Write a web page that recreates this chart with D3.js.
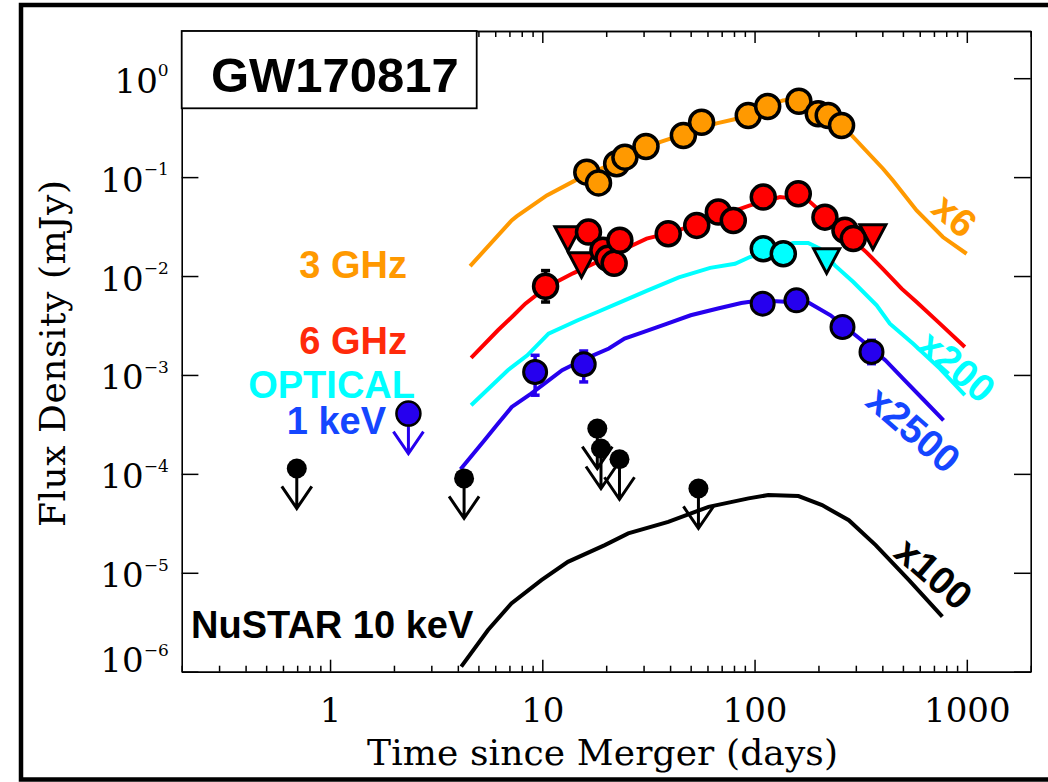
<!DOCTYPE html>
<html>
<head>
<meta charset="utf-8">
<script src="https://cdn.jsdelivr.net/npm/d3@7"></script>
<style>
  body { margin: 0; background: #fff; }
  svg { display: block; }
</style>
</head>
<body>
<svg id="chart" width="1048" height="782"></svg>
<script>
// ---------- Model light curves (time in days, flux density in mJy, already scaled) ----------
const model3GHzT = [4.57, 7.17, 7.57, 10.5, 14.3, 35.8, 66.2, 82.4, 136, 164, 287, 403, 449, 580, 771, 998];
const model3GHzF = [0.0126, 0.0365, 0.0401, 0.0653, 0.0927, 0.226, 0.349, 0.389, 0.595, 0.624, 0.264, 0.1216, 0.0926, 0.0461, 0.0248, 0.0168];

const model6GHzT = [4.62, 6.18, 7.33, 8.32, 10.5, 13.95, 31.0, 41.3, 95.2, 131.8, 179, 337, 404, 493, 580, 747, 979];
const model6GHzF = [0.00149, 0.00283, 0.00401, 0.00526, 0.00774, 0.01065, 0.0239, 0.0278, 0.0518, 0.0628, 0.0582, 0.01735, 0.0117, 0.00746, 0.00546, 0.00330, 0.00192];

const modelOptT = [4.62, 6.88, 8.50, 10.7, 14.7, 18.2, 24.4, 31.4, 44.0, 61.8, 80.9, 95.1, 152, 179, 203, 239, 292, 376, 434, 559, 747, 979];
const modelOptF = [4.94e-4, 1.115e-3, 1.58e-3, 2.62e-3, 3.57e-3, 4.33e-3, 5.68e-3, 7.17e-3, 9.7e-3, 0.0121, 0.0133, 0.01556, 0.0216, 0.0216, 0.0189, 0.0128, 0.00869, 0.00506, 0.0033, 0.00207, 0.00116, 6.24e-4];

const model1keVT = [4.12, 5.34, 6.19, 7.18, 8.86, 10.49, 12.4, 16.0, 20.6, 24.4, 30.1, 38.8, 50.0, 67.2, 86.6, 106.9, 181, 228, 320, 413, 510, 629, 777];
const model1keVF = [1.115e-4, 2.19e-4, 3.23e-4, 4.75e-4, 6.49e-4, 8.5e-4, 1.115e-3, 1.465e-3, 1.85e-3, 2.33e-3, 2.72e-3, 3.30e-3, 4.01e-3, 4.69e-3, 5.33e-3, 5.68e-3, 5.33e-3, 4.01e-3, 2.24e-3, 1.41e-3, 8.83e-4, 5.55e-4, 3.48e-4];

const model10keVT = [4.15, 5.55, 7.15, 9.90, 13.2, 19.7, 25.4, 39.2, 60.7, 93.7, 116, 161, 208, 278, 372, 534, 767];
const model10keVF = [1.124e-6, 2.64e-6, 4.91e-6, 8.44e-6, 1.29e-5, 1.905e-5, 2.50e-5, 3.27e-5, 4.64e-5, 5.65e-5, 6.1e-5, 5.96e-5, 4.83e-5, 3.40e-5, 1.905e-5, 8.44e-6, 3.6e-6];

// ---------- Detections ----------
const obs3GHzT = [16.2, 18.4, 22.4, 24.5, 30.8, 46.2, 56.3, 93.4, 115.3, 161.8, 199.6, 222.4, 257];
const obs3GHzF = [0.1123, 0.0874, 0.1366, 0.1592, 0.204, 0.2637, 0.3593, 0.420, 0.5177, 0.586, 0.437, 0.420, 0.333];

const obs6GHzT = [10.36, 16.5, 19.3, 20.4, 21.8, 23.2, 39.2, 53.4, 67.5, 79.4, 109.9, 160.7, 214.6, 266.6, 291.8];
const obs6GHzF = [0.00787, 0.0278, 0.0182, 0.0151, 0.01343, 0.0230, 0.0268, 0.0325, 0.0443, 0.0365, 0.0628, 0.0680, 0.0394, 0.0290, 0.0239];
const obs6GHzLo = [0.00546, null, null, null, null, null, null, null, null, null, null, null, null, null, null];
const obs6GHzHi = [0.01135, null, null, null, null, null, null, null, null, null, null, null, null, null, null];
const lim6GHzT = [13.2, 15.3, 361];
const lim6GHzF = [0.0258, 0.01407, 0.0270];

const obsOptT = [109.9, 136.6];
const obsOptF = [0.0189, 0.01683];
const limOptT = [218.6];
const limOptF = [0.01545];

const obs1keVT = [9.25, 15.67, 109.2, 157.5, 259.6, 355.6];
const obs1keVF = [1.072e-3, 1.282e-3, 5.26e-3, 5.68e-3, 3.05e-3, 1.71e-3];
const obs1keVLo = [6.24e-4, 8.5e-4, null, null, null, 1.3e-3];
const obs1keVHi = [1.58e-3, 1.746e-3, null, null, null, 2.24e-3];
const lim1keVT = [2.34];
const lim1keVF = [4.07e-4];

const lim10keVT = [0.697, 4.28, 18.16, 18.9, 23.1, 54.4];
const lim10keVF = [1.134e-4, 8.99e-5, 2.87e-4, 1.806e-4, 1.406e-4, 7.12e-5];

// ---------- Axis ticks ----------
const xMajorTicks = [1, 10, 100, 1000];
const xTickLabels = ["1", "10", "100", "1000"];
const yMajorTicks = [1, 1e-1, 1e-2, 1e-3, 1e-4, 1e-5, 1e-6];
const yTickExponents = ["0", "\u22121", "\u22122", "\u22123", "\u22124", "\u22125", "\u22126"];

// ---------- Colours ----------
const cOrange = "#ff9900";
const cRed = "#ff0000";
const cCyan = "#00ffff";
const cBlue = "#2600ee";
const cBlueText = "#1446ff";
const cRedText = "#ff2a0a";

const svg = d3.select("#chart");
const W = 1048, H = 782;
const plot = { left: 181.7, right: 1030.7, top: 31, bottom: 671.7 };

const x = d3.scaleLog().domain([0.2, 2000]).range([plot.left, plot.right]);
const y = d3.scaleLog().domain([1e-6, 3]).range([plot.bottom, plot.top]);

const serif = "'DejaVu Serif', 'Liberation Serif', serif";
const sans = "'Liberation Sans', Arial, Helvetica, sans-serif";

svg.append("rect").attr("width", W).attr("height", H).attr("fill", "#fff");

// outer frame
svg.append("rect")
  .attr("x", 21).attr("y", 5).attr("width", 1100).attr("height", 774.5)
  .attr("fill", "none").attr("stroke", "#000").attr("stroke-width", 4.5);

// ---------- Axes ----------
const minorX = [];
[0.1, 1, 10, 100, 1000].forEach(dec => {
  for (let k = 2; k <= 9; k++) {
    const v = k * dec;
    if (v >= 0.2 && v <= 2000) minorX.push(v);
  }
});

function styleAxis(g) {
  g.selectAll("path.domain").attr("stroke", "#000").attr("stroke-width", 1.6);
  g.selectAll(".tick line").attr("stroke", "#000").attr("stroke-width", 1.5);
}

const gBottom = svg.append("g").attr("transform", `translate(0,${plot.bottom})`)
  .call(d3.axisBottom(x).tickValues(xMajorTicks).tickSizeInner(-12).tickSizeOuter(0)
    .tickFormat((d, i) => xTickLabels[i]));
gBottom.selectAll(".tick text")
  .attr("y", 50.5).attr("dy", null)
  .attr("font-family", serif).attr("font-size", 34).attr("fill", "#000");
styleAxis(gBottom);

const gBottomMinor = svg.append("g").attr("transform", `translate(0,${plot.bottom})`)
  .call(d3.axisBottom(x).tickValues(minorX).tickSizeInner(-6).tickSizeOuter(0).tickFormat(""));
styleAxis(gBottomMinor);

const gTop = svg.append("g").attr("transform", `translate(0,${plot.top})`)
  .call(d3.axisTop(x).tickValues(xMajorTicks).tickSizeInner(-12).tickSizeOuter(0).tickFormat(""));
styleAxis(gTop);
const gTopMinor = svg.append("g").attr("transform", `translate(0,${plot.top})`)
  .call(d3.axisTop(x).tickValues(minorX).tickSizeInner(-6).tickSizeOuter(0).tickFormat(""));
styleAxis(gTopMinor);

const gLeft = svg.append("g").attr("transform", `translate(${plot.left},0)`)
  .call(d3.axisLeft(y).tickValues(yMajorTicks).tickSizeInner(-16.7).tickSizeOuter(0).tickPadding(13));
styleAxis(gLeft);
gLeft.selectAll(".tick text").each(function (d, i) {
  const t = d3.select(this);
  t.text(null)
    .attr("dy", null)
    .attr("y", d === 1e-6 ? 0 : 14)
    .attr("font-family", serif).attr("font-size", 34).attr("fill", "#000");
  t.append("tspan").text("10");
  t.append("tspan").attr("dy", -16.5).attr("font-size", 17).text(yTickExponents[i]);
});

const gRight = svg.append("g").attr("transform", `translate(${plot.right},0)`)
  .call(d3.axisRight(y).tickValues(yMajorTicks).tickSizeInner(-16.7).tickSizeOuter(0).tickFormat(""));
styleAxis(gRight);

// axis titles
svg.append("text")
  .attr("x", 602.5).attr("y", 765)
  .attr("text-anchor", "middle")
  .attr("font-family", serif).attr("font-size", 36)
  .attr("textLength", 471).attr("lengthAdjust", "spacing")
  .text("Time since Merger (days)");

svg.append("text")
  .attr("transform", "translate(65,353.5) rotate(-90)")
  .attr("text-anchor", "middle")
  .attr("font-family", serif).attr("font-size", 36)
  .attr("textLength", 347).attr("lengthAdjust", "spacing")
  .text("Flux Density (mJy)");

// title box
svg.append("rect")
  .attr("x", plot.left).attr("y", plot.top).attr("width", 295).attr("height", 77.3)
  .attr("fill", "#fff").attr("stroke", "#000").attr("stroke-width", 1.8);
svg.append("text")
  .attr("x", 211).attr("y", 91.7)
  .attr("font-family", sans).attr("font-weight", "bold").attr("font-size", 49)
  .text("GW170817");

// ---------- Model curves ----------
const line = d3.line().x(d => x(d[0])).y(d => y(d[1]));
const models = [
  { t: model10keVT, f: model10keVF, c: "#000" },
  { t: model1keVT, f: model1keVF, c: cBlue },
  { t: modelOptT, f: modelOptF, c: cCyan },
  { t: model6GHzT, f: model6GHzF, c: cRed },
  { t: model3GHzT, f: model3GHzF, c: cOrange }
];
svg.append("g").selectAll("path").data(models).join("path")
  .attr("d", m => line(d3.zip(m.t, m.f)))
  .attr("fill", "none").attr("stroke", m => m.c).attr("stroke-width", 4)
  .attr("stroke-linejoin", "miter");

// ---------- Marks ----------
function errorBars(T, F, Lo, Hi, color, width) {
  const rows = T.map((t, i) => ({ t, lo: Lo[i], hi: Hi[i] })).filter(d => d.lo != null);
  const g = svg.append("g").attr("stroke", color).attr("stroke-width", width);
  g.selectAll("line.v").data(rows).join("line").attr("class", "v")
    .attr("x1", d => x(d.t)).attr("x2", d => x(d.t))
    .attr("y1", d => y(d.lo)).attr("y2", d => y(d.hi));
  g.selectAll("line.lo").data(rows).join("line").attr("class", "lo")
    .attr("x1", d => x(d.t) - 4.5).attr("x2", d => x(d.t) + 4.5)
    .attr("y1", d => y(d.lo)).attr("y2", d => y(d.lo));
  g.selectAll("line.hi").data(rows).join("line").attr("class", "hi")
    .attr("x1", d => x(d.t) - 4.5).attr("x2", d => x(d.t) + 4.5)
    .attr("y1", d => y(d.hi)).attr("y2", d => y(d.hi));
}

function circles(T, F, fill, r, sw) {
  svg.append("g").selectAll("circle").data(d3.zip(T, F)).join("circle")
    .attr("cx", d => x(d[0])).attr("cy", d => y(d[1])).attr("r", r)
    .attr("fill", fill).attr("stroke", "#000").attr("stroke-width", sw);
}

function triangles(T, F, fill) {
  const tri = "M-13,-8.5L13,-8.5L0,16Z";
  svg.append("g").selectAll("path").data(d3.zip(T, F)).join("path")
    .attr("d", tri)
    .attr("transform", d => `translate(${x(d[0])},${y(d[1])})`)
    .attr("fill", fill).attr("stroke", "#000").attr("stroke-width", 3)
    .attr("stroke-linejoin", "miter");
}

function upperLimits(T, F, color, r, fill, sw) {
  const g = svg.append("g");
  const rows = d3.zip(T, F);
  g.selectAll("path").data(rows).join("path")
    .attr("d", d => {
      const cx = x(d[0]), cy = y(d[1]);
      return `M${cx},${cy}L${cx},${cy + 40}M${cx - 15},${cy + 18}L${cx},${cy + 40}L${cx + 15},${cy + 18}`;
    })
    .attr("fill", "none").attr("stroke", color).attr("stroke-width", 3);
  g.selectAll("circle").data(rows).join("circle")
    .attr("cx", d => x(d[0])).attr("cy", d => y(d[1])).attr("r", r)
    .attr("fill", fill).attr("stroke", sw > 0 ? "#000" : "none").attr("stroke-width", sw);
}

// 3 GHz
circles(obs3GHzT, obs3GHzF, cOrange, 12, 3.5);
// 6 GHz
errorBars(obs6GHzT, obs6GHzF, obs6GHzLo, obs6GHzHi, "#000", 3.5);
triangles(lim6GHzT, lim6GHzF, cRed);
circles(obs6GHzT, obs6GHzF, cRed, 12, 3.5);
// optical
circles(obsOptT, obsOptF, cCyan, 12, 3.5);
triangles(limOptT, limOptF, cCyan);
// 1 keV
errorBars(obs1keVT, obs1keVF, obs1keVLo, obs1keVHi, cBlue, 3.5);
circles(obs1keVT, obs1keVF, cBlue, 11.5, 3);
upperLimits(lim1keVT, lim1keVF, cBlue, 12, cBlue, 2.5);
// NuSTAR 10 keV
upperLimits(lim10keVT, lim10keVF, "#000", 10, "#000", 0);

// ---------- Band labels ----------
const bandLabels = [
  { text: "3 GHz", x: 407, y: 278, c: cOrange },
  { text: "6 GHz", x: 407, y: 354, c: cRedText },
  { text: "OPTICAL", x: 415, y: 398.3, c: cCyan },
  { text: "1 keV", x: 386, y: 434, c: cBlueText }
];
svg.append("g").selectAll("text").data(bandLabels).join("text")
  .attr("x", d => d.x).attr("y", d => d.y)
  .attr("text-anchor", "end")
  .attr("font-family", sans).attr("font-weight", "bold").attr("font-size", 38)
  .attr("fill", d => d.c)
  .text(d => d.text);

svg.append("text")
  .attr("x", 191).attr("y", 638.3)
  .attr("font-family", sans).attr("font-weight", "bold").attr("font-size", 38)
  .text("NuSTAR 10 keV");

const scaleLabels = [
  { text: "x6", x: 955, y: 215, c: cOrange },
  { text: "x200", x: 957, y: 366, c: cCyan },
  { text: "x2500", x: 914, y: 429, c: cBlueText },
  { text: "x100", x: 934, y: 573, c: "#000" }
];
svg.append("g").selectAll("text").data(scaleLabels).join("text")
  .attr("transform", d => `translate(${d.x},${d.y}) rotate(41)`)
  .attr("text-anchor", "middle").attr("dy", "0.36em")
  .attr("font-family", sans).attr("font-weight", "bold").attr("font-size", 39)
  .attr("fill", d => d.c)
  .text(d => d.text);
</script>
</body>
</html>
